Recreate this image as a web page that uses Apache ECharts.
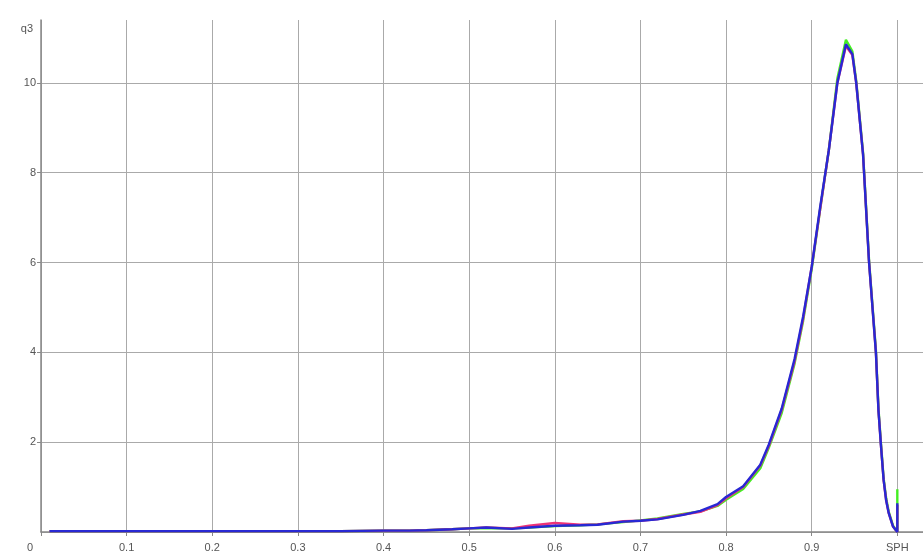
<!DOCTYPE html>
<html>
<head>
<meta charset="utf-8">
<script src="https://cdn.jsdelivr.net/npm/echarts@6/dist/echarts.min.js"></script>
<style>html,body{margin:0;padding:0;background:#fff}#c{width:923px;height:559px}</style>
</head>
<body>
<div id="c"></div>
<script>
const xValues = [0.01,0.05,0.1,0.15,0.2,0.25,0.3,0.35,0.4,0.43,0.45,0.48,0.5,0.52,0.55,0.57,0.6,0.63,0.65,0.68,0.7,0.72,0.75,0.77,0.79,0.8,0.82,0.84,0.85,0.865,0.88,0.89,0.9,0.91,0.92,0.93,0.94,0.9475,0.952,0.96,0.967,0.975,0.978,0.981,0.984,0.987,0.99,0.995,1.0,1.0];
const blueValues = [0.02,0.02,0.02,0.02,0.02,0.02,0.02,0.02,0.03,0.03,0.04,0.06,0.08,0.1,0.07,0.1,0.14,0.15,0.16,0.23,0.25,0.28,0.38,0.47,0.62,0.78,1.02,1.5,1.95,2.75,3.85,4.8,5.9,7.25,8.5,10.0,10.86,10.64,10.0,8.4,6.0,4.0,2.7,1.9,1.16,0.7,0.42,0.12,0.0,0.64];
const greenValues = [0.02,0.02,0.02,0.02,0.02,0.02,0.02,0.02,0.03,0.03,0.04,0.06,0.08,0.09,0.08,0.1,0.13,0.15,0.17,0.22,0.26,0.3,0.4,0.46,0.58,0.72,0.96,1.42,1.88,2.65,3.75,4.7,5.85,7.2,8.5,10.1,10.96,10.7,10.05,8.45,6.05,4.05,2.75,1.95,1.2,0.75,0.45,0.14,0.0,0.95];
const redValues = [0.02,0.02,0.02,0.02,0.02,0.02,0.02,0.02,0.03,0.03,0.04,0.06,0.08,0.1,0.08,0.14,0.2,0.16,0.17,0.24,0.25,0.29,0.39,0.45,0.6,0.75,1.0,1.48,1.92,2.72,3.8,4.75,5.9,7.2,8.5,10.0,10.82,10.62,10.0,8.4,6.0,4.0,2.7,1.9,1.16,0.7,0.42,0.12,0.0,0.6];
const xTickLabels = {0:'0',1:'0.1',2:'0.2',3:'0.3',4:'0.4',5:'0.5',6:'0.6',7:'0.7',8:'0.8',9:'0.9',10:'SPH'};
const yAxisName = 'q3';

function pairs(ys){ return xValues.map((x,i)=>[x, ys[i]]); }

const G = '#aaa', T = 'rgba(0,0,0,0)';
const chart = echarts.init(document.getElementById('c'));
const lineStyle = (c)=>({color:c, width:2.4});
const font = 'Liberation Sans, Arial, sans-serif';
chart.setOption({
  animation:false,
  backgroundColor:'#fff',
  grid:{left:41, right:0, top:20, bottom:27, containLabel:false},
  xAxis:{
    type:'value', min:0, max:1.03, interval:0.1,
    axisLine:{show:true, onZero:false, lineStyle:{color:'#888', width:1.5}},
    axisTick:{show:true, length:4, lineStyle:{color:'#888'}},
    splitLine:{show:true, lineStyle:{color:[G,G,G,G,G,G,G,G,G,G,G,T], width:1}},
    axisLabel:{
      showMaxLabel:false, margin:10, color:'#555', fontSize:11, fontFamily:font,
      formatter:function(v){
        const k = Math.round(v*10);
        if (Math.abs(v - k/10) > 1e-6 || !(k in xTickLabels)) return '';
        if (k === 0) return '{z|0}';
        return xTickLabels[k];
      },
      rich:{z:{padding:[0,22,0,0], color:'#555', fontSize:11, fontFamily:font}}
    }
  },
  yAxis:{
    type:'value', min:0, max:11.4, interval:2,
    name:yAxisName, nameLocation:'end', nameGap:-14,
    nameTextStyle:{color:'#555', fontSize:11, align:'right', padding:[0,8,0,0], fontFamily:font},
    axisLine:{show:true, lineStyle:{color:'#888', width:1.5}},
    axisTick:{show:true, length:4, lineStyle:{color:'#888'}},
    splitLine:{show:true, lineStyle:{color:[G,G,G,G,G,G,T], width:1}},
    axisLabel:{
      showMinLabel:false, showMaxLabel:false, margin:5, color:'#555', fontSize:11, fontFamily:font,
      formatter:function(v){ return (v===0 || v>11) ? '' : String(v); }
    }
  },
  series:[
    {type:'line', data:pairs(greenValues), showSymbol:false, lineStyle:lineStyle('#44ee22'), z:2},
    {type:'line', data:pairs(redValues), showSymbol:false, lineStyle:lineStyle('#ee3377'), z:3},
    {type:'line', data:pairs(blueValues), showSymbol:false, lineStyle:lineStyle('#2828d4'), z:4}
  ]
});
</script>
</body>
</html>
